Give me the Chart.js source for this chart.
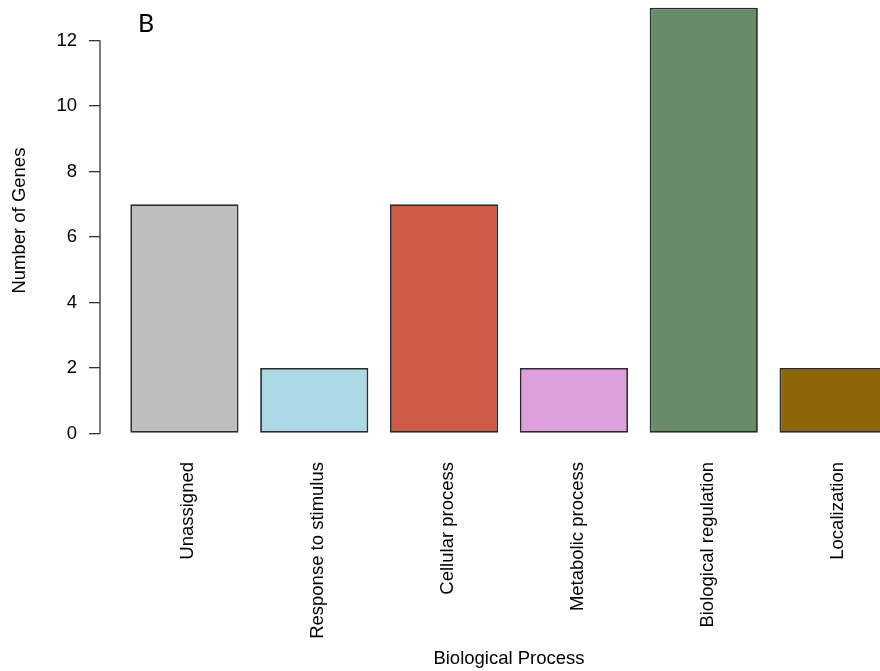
<!DOCTYPE html>
<html>
<head>
<meta charset="utf-8">
<script src="https://cdn.jsdelivr.net/npm/chart.js@4"></script>
<style>
  html, body { margin: 0; padding: 0; overflow: hidden; background: #fff; }
  #wrap { position: relative; width: 880px; height: 671px; overflow: hidden; }
  #chart { position: absolute; left: 0; top: -40px; }
  #panel { position: absolute; left: 138px; top: 10px; font: 25px Lato, "Liberation Sans", sans-serif; line-height: 1; color: #000; }
</style>
</head>
<body>
<div id="wrap">
  <canvas id="chart" width="930" height="711"></canvas>
  <div id="panel">B</div>
</div>
<script>
const categories = ["Unassigned", "Response to stimulus", "Cellular process", "Metabolic process", "Biological regulation", "Localization"];
const geneCounts = [7, 2, 7, 2, 13, 2];
const barColors = ["#BEBEBE", "#ADD8E6", "#CD5B45", "#DDA0DD", "#698B69", "#8B6508"];
const yTicks = [0, 2, 4, 6, 8, 10, 12];

// barplot-style layout: unit-width bars separated by 0.2 gaps, axes extended by 4%
const BAR_SPACE = 0.2, BAR_WIDTH = 1;
const barCenters = categories.map((_, i) => BAR_SPACE + BAR_WIDTH / 2 + i * (BAR_SPACE + BAR_WIDTH));
const xLo = BAR_SPACE, xHi = categories.length * (BAR_SPACE + BAR_WIDTH);
const xPad = 0.04 * (xHi - xLo);
const yTop = Math.max(...geneCounts);
const yPad = 0.04 * yTop;

const AXIS_COLOR = '#333';

// y axis line spans only the labelled range
const axisLine = {
  id: 'axisLine',
  afterDraw(chart) {
    const ys = chart.scales.y, ctx = chart.ctx;
    const x = chart.chartArea.left;
    ctx.save();
    ctx.strokeStyle = AXIS_COLOR;
    ctx.lineWidth = 1.3;
    ctx.beginPath();
    ctx.moveTo(x, ys.getPixelForValue(yTicks[0]));
    ctx.lineTo(x, ys.getPixelForValue(yTicks[yTicks.length - 1]));
    ctx.stroke();
    ctx.restore();
  }
};

Chart.defaults.font.family = '"Liberation Sans", Arial, sans-serif';
Chart.defaults.font.size = 18.5;
Chart.defaults.color = '#000';

new Chart(document.getElementById('chart'), {
  type: 'bar',
  data: {
    datasets: [{
      data: geneCounts.map((v, i) => ({ x: barCenters[i], y: v })),
      backgroundColor: barColors,
      borderColor: '#2b2b2b',
      borderWidth: 1.8,
      borderSkipped: false,
      categoryPercentage: 1,
      barPercentage: BAR_WIDTH / (BAR_WIDTH + BAR_SPACE)
    }]
  },
  plugins: [axisLine],
  options: {
    responsive: false,
    animation: false,
    layout: { padding: { top: 30.7, right: 12, bottom: 0, left: 0 } },
    plugins: { legend: { display: false }, tooltip: { enabled: false } },
    scales: {
      x: {
        type: 'linear',
        offset: false,
        min: xLo - xPad,
        max: xHi + xPad,
        grid: { display: false, drawTicks: false, offset: false },
        border: { display: false },
        afterBuildTicks: s => { s.ticks = barCenters.map(v => ({ value: v })); },
        afterFit: s => { s.height = 220.5; },
        ticks: {
          autoSkip: false,
          minRotation: 90,
          maxRotation: 90,
          padding: 11.5,
          labelOffset: 4,
          callback: (v, i) => categories[i]
        },
        title: { display: true, text: 'Biological Process', padding: { top: 0, bottom: 1 } }
      },
      y: {
        min: -yPad,
        max: yTop + yPad,
        afterBuildTicks: s => { s.ticks = yTicks.map(v => ({ value: v })); },
        afterFit: s => { s.width = 100; },
        grid: { drawOnChartArea: false, drawTicks: true, tickLength: 11, color: AXIS_COLOR, lineWidth: 1.3 },
        border: { display: false },
        ticks: { padding: 12, callback: v => String(v) },
        title: { display: true, text: 'Number of Genes', padding: { top: 9, bottom: 0 } }
      }
    }
  }
});
</script>
</body>
</html>
